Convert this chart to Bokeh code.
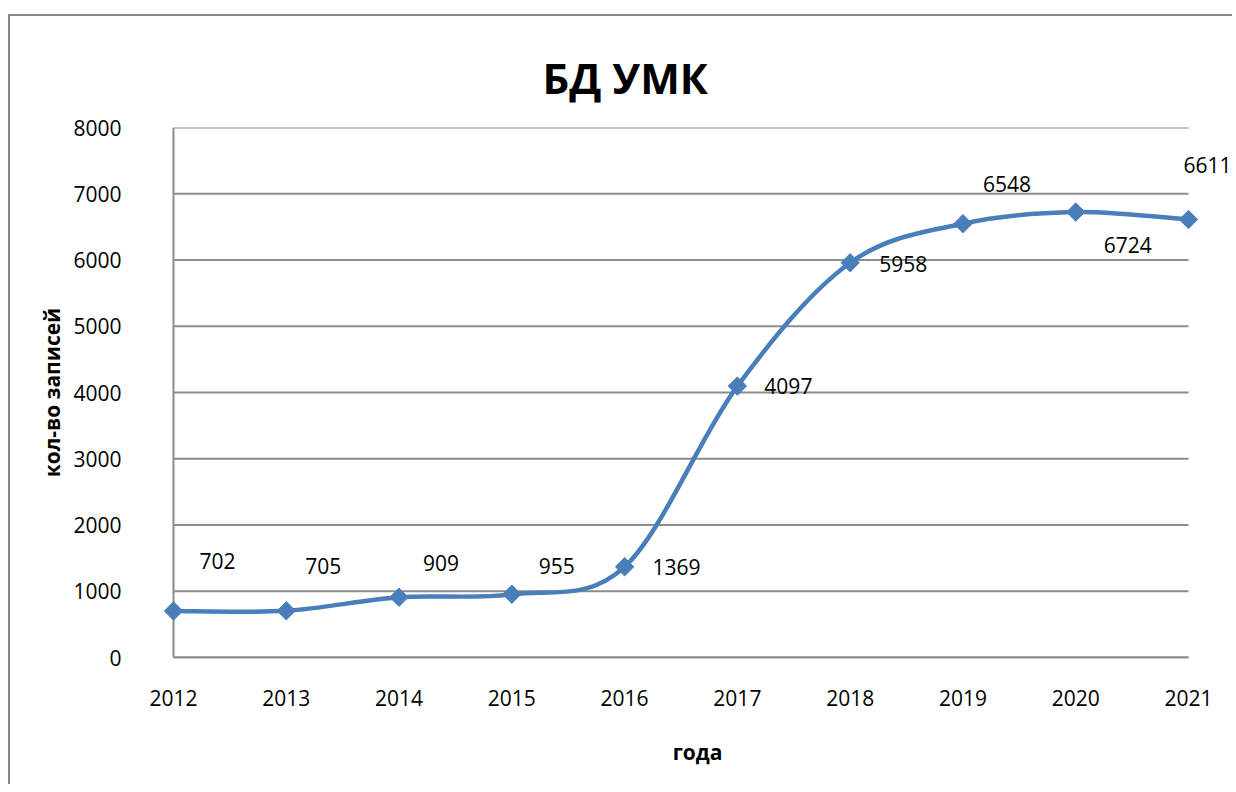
import math
from bokeh.plotting import figure
from bokeh.models import ColumnDataSource, LabelSet, FixedTicker, Title
from bokeh.core.properties import value
from bokeh.embed import file_html
from bokeh.resources import INLINE

years = [2012, 2013, 2014, 2015, 2016, 2017, 2018, 2019, 2020, 2021]
records = [702, 705, 909, 955, 1369, 4097, 5958, 6548, 6724, 6611]
y_ticks = [0, 1000, 2000, 3000, 4000, 5000, 6000, 7000, 8000]

# label placement (screen px offsets)
lab_dx = [44, 37, 42, 45, 52, 51, 53, 44, 52, 19]
lab_dy = [50, 45, 34, 28, 0, 0, -1, 40, -33, 55]

FONT = "Open Sans"
BLUE = "#4A7EBB"
GRID = "#8C8C8C"

# layout (pixels)
FRAME_LEFT_PAD = 13     # px of frame left of the first year
FRAME_RIGHT_PAD = 46    # px of frame right of the last year
YEAR_SPAN_PX = 1015
ppy = YEAR_SPAN_PX / (years[-1] - years[0])
x_start = years[0] - FRAME_LEFT_PAD / ppy
x_end = years[-1] + FRAME_RIGHT_PAD / ppy

# smooth curve (Catmull-Rom bezier segments through the data points)
n = len(years)
x0s, y0s, x1s, y1s, cx0s, cy0s, cx1s, cy1s = [], [], [], [], [], [], [], []
for i in range(n - 1):
    p0 = (years[i - 1], records[i - 1]) if i > 0 else (years[i], records[i])
    p1 = (years[i], records[i])
    p2 = (years[i + 1], records[i + 1])
    p3 = (years[i + 2], records[i + 2]) if i + 2 < n else p2
    x0s.append(p1[0]); y0s.append(p1[1])
    x1s.append(p2[0]); y1s.append(p2[1])
    cx0s.append(p1[0] + (p2[0] - p0[0]) / 6); cy0s.append(p1[1] + (p2[1] - p0[1]) / 6)
    cx1s.append(p2[0] - (p3[0] - p1[0]) / 6); cy1s.append(p2[1] - (p3[1] - p1[1]) / 6)

curve = ColumnDataSource(dict(x0=x0s, y0=y0s, x1=x1s, y1=y1s, cx0=cx0s, cy0=cy0s, cx1=cx1s, cy1=cy1s))
pts = ColumnDataSource(dict(x=years, y=records, t=[str(v) for v in records], dx=lab_dx, dy=lab_dy))
grid = ColumnDataSource(dict(x0=[years[0]] * len(y_ticks), x1=[years[-1]] * len(y_ticks), y=y_ticks))

p = figure(width=1224, height=770, output_backend="svg", toolbar_location=None,
           x_range=(x_start, x_end), y_range=(0, 8000),
           min_border_left=150, min_border_right=0, min_border_top=111, min_border_bottom=129,
           styles={"border-left": "2px solid #888888", "border-top": "2px solid #888888",
                   "margin-top": "14px", "margin-left": "8px"})
p.outline_line_color = None
p.background_fill_color = "white"
p.border_fill_color = "white"

t = Title(text="БД УМК", align="left", offset=382, text_font=FONT, text_font_size="42px",
          text_font_style="bold", text_color="black", standoff=39, vertical_align="top")
p.add_layout(t, "above")

p.xaxis.ticker = FixedTicker(ticks=years)
p.yaxis.ticker = FixedTicker(ticks=y_ticks)
p.xgrid.grid_line_color = None
p.ygrid.grid_line_color = None
p.xaxis.bounds = (years[0], years[-1])
p.xaxis.axis_line_color = GRID
p.xaxis.axis_line_width = 2
p.yaxis.axis_line_color = None
for ax in (p.xaxis, p.yaxis):
    ax.major_tick_out = 0
    ax.major_tick_in = 0
    ax.minor_tick_out = 0
    ax.minor_tick_in = 0
    ax.major_label_text_font = FONT
    ax.major_label_text_font_size = "21px"
    ax.major_label_text_color = "black"
    ax.axis_label_text_font = FONT
    ax.axis_label_text_font_style = "bold"
    ax.axis_label_text_font_size = "21px"
    ax.axis_label_text_color = "black"
p.yaxis.major_label_standoff = 26 + FRAME_LEFT_PAD
p.xaxis.major_label_standoff = 32
p.xaxis.axis_label = "года"
p.yaxis.axis_label = "кол-во записей"
p.xaxis.axis_label_standoff = 29
p.yaxis.axis_label_standoff = 4

p.segment(x0="x0", x1="x1", y0="y", y1="y", source=grid, line_color=GRID, line_width=2)
p.segment(x0=years[0], x1=years[0], y0=y_ticks[0], y1=y_ticks[-1], line_color=GRID, line_width=2)
p.bezier(x0="x0", y0="y0", x1="x1", y1="y1", cx0="cx0", cy0="cy0", cx1="cx1", cy1="cy1",
         source=curve, line_color=BLUE, line_width=4.5)
p.scatter(x="x", y="y", source=pts, marker="square", angle=math.pi / 4, size=13,
          fill_color=BLUE, line_color=BLUE)

labels = LabelSet(x="x", y="y", text="t", source=pts, x_offset="dx", y_offset="dy",
                  text_align="center", text_baseline="middle", text_font=value(FONT),
                  text_font_size="21px", text_color="black")
p.add_layout(labels)

open("out.html", "w").write(file_html(p, INLINE))
